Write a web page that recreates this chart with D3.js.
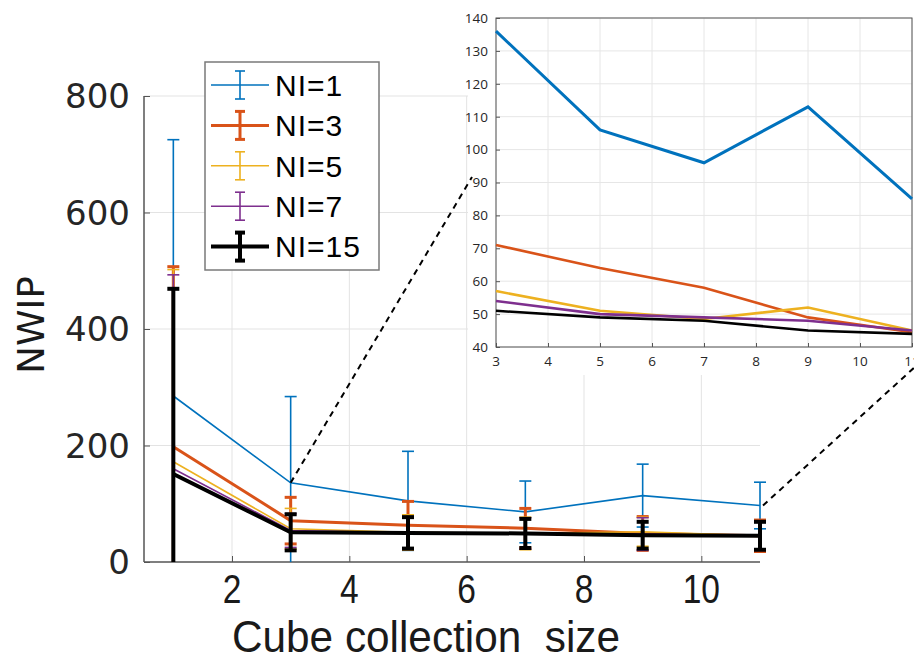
<!DOCTYPE html>
<html>
<head>
<meta charset="utf-8">
<script src="https://cdn.jsdelivr.net/npm/d3@7"></script>
<style>
    body { margin: 0; background: #fff; }
    svg { display: block; }
</style>
</head>
<body>
<div id="app"></div>
<script>
        //data
let xValues = [1, 3, 5, 7, 9, 11];
let seriesNames = ['NI=1', 'NI=3', 'NI=5', 'NI=7', 'NI=15'];
let seriesColors = ['#0072BD', '#D95319', '#EDB120', '#7E2F8E', '#000000'];
let seriesWidths = [1.6, 3, 1.6, 1.6, 4];

let meanNI1 = [285, 136, 105, 86, 114, 97];
let meanNI3 = [198, 71, 63, 58, 49, 45];
let meanNI5 = [172, 57, 51, 49, 52, 45];
let meanNI7 = [160, 54, 50, 49, 48, 45];
let meanNI15 = [151, 51, 50, 49, 46, 45];

let errNI1 = [440, 148, 85, 53, 54, 40];
let errNI3 = [309, 40, 41, 34, 29, 27];
let errNI5 = [330, 35, 30, 28, 25, 24];
let errNI7 = [333, 29, 28, 27, 28, 25];
let errNI15 = [318, 31, 27, 25, 23, 24];

        //zoomed inset
let insetX = [3, 5, 7, 9, 11];
let insetNI1 = [136, 106, 96, 113, 85];
let insetNI3 = [71, 64, 58, 49, 44.5];
let insetNI5 = [57, 51, 48.5, 52, 45];
let insetNI7 = [54, 50, 49, 48, 45];
let insetNI15 = [51, 49, 48, 45, 44];

let xTicks = [2, 4, 6, 8, 10];
let yTicks = [0, 200, 400, 600, 800];
let insetXTicks = [3, 4, 5, 6, 7, 8, 9, 10, 11];
let insetYTicks = [40, 50, 60, 70, 80, 90, 100, 110, 120, 130, 140];

let means = [meanNI1, meanNI3, meanNI5, meanNI7, meanNI15];
let errs = [errNI1, errNI3, errNI5, errNI7, errNI15];
let insetMeans = [insetNI1, insetNI3, insetNI5, insetNI7, insetNI15];

let svgWidth = 914;
let svgHeight = 662;

let series = seriesNames.map((name, i) => ({
    name: name,
    color: seriesColors[i],
    width: seriesWidths[i],
    points: xValues.map((x, j) => ({x: x, y: means[i][j], e: errs[i][j]})),
    inset: insetX.map((x, j) => ({x: x, y: insetMeans[i][j]}))
}));

let svg = d3.select('#app').append('svg')
    .attr('width', svgWidth)
    .attr('height', svgHeight)
    .style('background', '#fff');

        //main axes
let x = d3.scaleLinear().domain([0.5, 11]).range([144, 760]);
let y = d3.scaleLinear().domain([0, 800]).range([562, 96]);

svg.append('defs').append('clipPath')
    .attr('id', 'mainClip')
    .append('rect')
    .attr('x', x.range()[0]).attr('y', 0)
    .attr('width', x.range()[1] - x.range()[0] + 20)
    .attr('height', y(0));

        //grid
svg.append('g')
    .selectAll('line')
    .data(xTicks)
    .enter().append('line')
        .attr('x1', d => x(d)).attr('x2', d => x(d))
        .attr('y1', y(0)).attr('y2', y(800))
        .attr('stroke', '#e3e3e3').attr('stroke-width', 1);

svg.append('g')
    .selectAll('line')
    .data(yTicks.slice(1))
    .enter().append('line')
        .attr('x1', x(0.5)).attr('x2', x(11))
        .attr('y1', d => y(d)).attr('y2', d => y(d))
        .attr('stroke', '#e3e3e3').attr('stroke-width', 1);

        //axes, ticks pointing inward like matlab
let xAxis = svg.append('g')
    .attr('transform', `translate(0,${y(0)})`)
    .call(d3.axisTop(x).tickValues(xTicks).tickSize(6).tickFormat(''));
xAxis.select('.domain').attr('stroke', '#555').attr('stroke-width', 1.5).attr('d', `M${x(0.5)},0H${x(11)}`);
xAxis.selectAll('.tick line').attr('stroke', '#555');

        //condensed look for the x labels (no narrow font installed)
svg.append('g')
    .selectAll('text')
    .data(xTicks)
    .enter().append('text')
        .attr('transform', d => `translate(${x(d)},603) scale(0.84,1)`)
        .attr('text-anchor', 'middle')
        .style('font-family', '"Liberation Sans", sans-serif')
        .style('font-size', '40px')
        .attr('fill', '#1a1a1a')
        .text(d => d);

let yAxis = svg.append('g')
    .attr('transform', `translate(${x(0.5)},0)`)
    .call(d3.axisRight(y).tickValues(yTicks).tickSize(6).tickFormat(''));
yAxis.select('.domain').attr('stroke', '#555').attr('stroke-width', 1.5).attr('d', `M0,${y(0)}V${y(800)}`);
yAxis.selectAll('.tick line').attr('stroke', '#555');

svg.append('g')
    .selectAll('text')
    .data(yTicks)
    .enter().append('text')
        .attr('x', 130)
        .attr('y', d => y(d))
        .attr('dy', '0.36em')
        .attr('text-anchor', 'end')
        .style('font-family', '"DejaVu Sans", sans-serif')
        .style('font-size', '34px')
        .attr('fill', '#262626')
        .text(d => d);

        //axis labels
svg.append('text')
    .attr('transform', 'translate(44,325) rotate(-90)')
    .attr('text-anchor', 'middle')
    .style('font-family', '"DejaVu Sans", sans-serif')
    .style('font-size', '37px')
    .attr('fill', '#1a1a1a')
    .text('NWIP');

svg.append('text')
    .attr('x', 426)
    .attr('y', 652)
    .attr('text-anchor', 'middle')
    .attr('textLength', 388)
    .attr('lengthAdjust', 'spacingAndGlyphs')
    .style('font-family', '"Liberation Sans", sans-serif')
    .style('font-size', '44px')
    .style('white-space', 'pre')
    .attr('fill', '#1a1a1a')
    .text('Cube collection  size');

        //series: lines then error bars
let line = d3.line().x(d => x(d.x)).y(d => y(d.y));
let plot = svg.append('g').attr('clip-path', 'url(#mainClip)');
let capHalf = 6;

series.forEach(s => {
    let g = plot.append('g');
    g.append('path')
        .datum(s.points)
        .attr('d', line)
        .attr('fill', 'none')
        .attr('stroke', s.color)
        .attr('stroke-width', s.width);

    let bars = g.selectAll('.bar')
        .data(s.points)
        .enter().append('g');
    bars.append('line')
        .attr('x1', d => x(d.x)).attr('x2', d => x(d.x))
        .attr('y1', d => y(d.y - d.e)).attr('y2', d => y(d.y + d.e))
        .attr('stroke', s.color).attr('stroke-width', s.width);
    [1, -1].forEach(sign => {
        bars.append('line')
            .attr('x1', d => x(d.x) - capHalf).attr('x2', d => x(d.x) + capHalf)
            .attr('y1', d => y(d.y + sign * d.e)).attr('y2', d => y(d.y + sign * d.e))
            .attr('stroke', s.color).attr('stroke-width', s.width);
    });
});

        //legend
let legend = svg.append('g');
legend.append('rect')
    .attr('x', 205).attr('y', 62)
    .attr('width', 174).attr('height', 208)
    .attr('fill', '#fff')
    .attr('stroke', '#7a7a7a').attr('stroke-width', 1.5);

let entry = legend.selectAll('.entry')
    .data(series)
    .enter().append('g')
        .attr('transform', (d, i) => `translate(0,${85 + i * 40.4})`);
entry.append('line')
    .attr('x1', 211).attr('x2', 269).attr('y1', 0).attr('y2', 0)
    .attr('stroke', d => d.color).attr('stroke-width', d => d.width);
entry.append('line')
    .attr('x1', 240).attr('x2', 240).attr('y1', -14).attr('y2', 14)
    .attr('stroke', d => d.color).attr('stroke-width', d => d.width);
[-14, 14].forEach(off => {
    entry.append('line')
        .attr('x1', 235).attr('x2', 245).attr('y1', off).attr('y2', off)
        .attr('stroke', d => d.color).attr('stroke-width', d => d.width);
});
entry.append('text')
    .attr('x', 275)
    .attr('y', 0)
    .attr('dy', '0.36em')
    .style('font-family', '"Liberation Sans", sans-serif')
    .style('font-size', '30px')
    .style('letter-spacing', '1px')
    .attr('fill', '#000')
    .text(d => d.name);

        //inset
let ix = d3.scaleLinear().domain([3, 11]).range([496, 912]);
let iy = d3.scaleLinear().domain([40, 140]).range([347, 18]);
let inset = svg.append('g');

inset.append('rect')
    .attr('x', ix(3) - 28).attr('y', 0)
    .attr('width', svgWidth - ix(3) + 28).attr('height', iy(40) + 28)
    .attr('fill', '#fff');

inset.append('g')
    .selectAll('line')
    .data(insetXTicks)
    .enter().append('line')
        .attr('x1', d => ix(d)).attr('x2', d => ix(d))
        .attr('y1', iy(40)).attr('y2', iy(140))
        .attr('stroke', '#e6e6e6');
inset.append('g')
    .selectAll('line')
    .data(insetYTicks)
    .enter().append('line')
        .attr('x1', ix(3)).attr('x2', ix(11))
        .attr('y1', d => iy(d)).attr('y2', d => iy(d))
        .attr('stroke', '#e6e6e6');

let ixAxis = inset.append('g')
    .attr('transform', `translate(0,${iy(40)})`)
    .call(d3.axisTop(ix).tickValues(insetXTicks).tickSize(4).tickFormat(''));
let iyAxis = inset.append('g')
    .attr('transform', `translate(${ix(3)},0)`)
    .call(d3.axisRight(iy).tickValues(insetYTicks).tickSize(4).tickFormat(''));
[ixAxis, iyAxis].forEach(a => {
    a.select('.domain').remove();
    a.selectAll('.tick line').attr('stroke', '#555');
});
inset.append('rect')
    .attr('x', ix(3)).attr('y', iy(140))
    .attr('width', ix(11) - ix(3)).attr('height', iy(40) - iy(140))
    .attr('fill', 'none')
    .attr('stroke', '#555').attr('stroke-width', 1);

inset.append('g')
    .selectAll('text')
    .data(insetXTicks)
    .enter().append('text')
        .attr('x', d => ix(d))
        .attr('y', iy(40) + 19)
        .attr('text-anchor', 'middle')
        .style('font-family', '"Open Sans", sans-serif')
        .style('font-size', '13.5px')
        .attr('fill', '#262626')
        .text(d => d);
inset.append('g')
    .selectAll('text')
    .data(insetYTicks)
    .enter().append('text')
        .attr('x', ix(3) - 8)
        .attr('y', d => iy(d))
        .attr('dy', '0.36em')
        .attr('text-anchor', 'end')
        .style('font-family', '"Open Sans", sans-serif')
        .style('font-size', '13.5px')
        .attr('fill', '#262626')
        .text(d => d);

let iline = d3.line().x(d => ix(d.x)).y(d => iy(d.y));
inset.append('g')
    .selectAll('path')
    .data(series)
    .enter().append('path')
        .attr('d', d => iline(d.inset))
        .attr('fill', 'none')
        .attr('stroke', d => d.color)
        .attr('stroke-width', (d, i) => i == 0 ? 3 : 2.6);

        //dashed connectors to the zoom inset, drawn on top
let connectors = [
    {from: [x(3), y(meanNI1[1])], to: [472, 177]},
    {from: [x(11) + 3, y(meanNI1[5])], to: [916, 366]}
];
svg.append('g')
    .selectAll('line')
    .data(connectors)
    .enter().append('line')
        .attr('x1', d => d.from[0]).attr('y1', d => d.from[1])
        .attr('x2', d => d.to[0]).attr('y2', d => d.to[1])
        .attr('stroke', '#000').attr('stroke-width', 2)
        .attr('stroke-dasharray', '6,5');
</script>
</body>
</html>
